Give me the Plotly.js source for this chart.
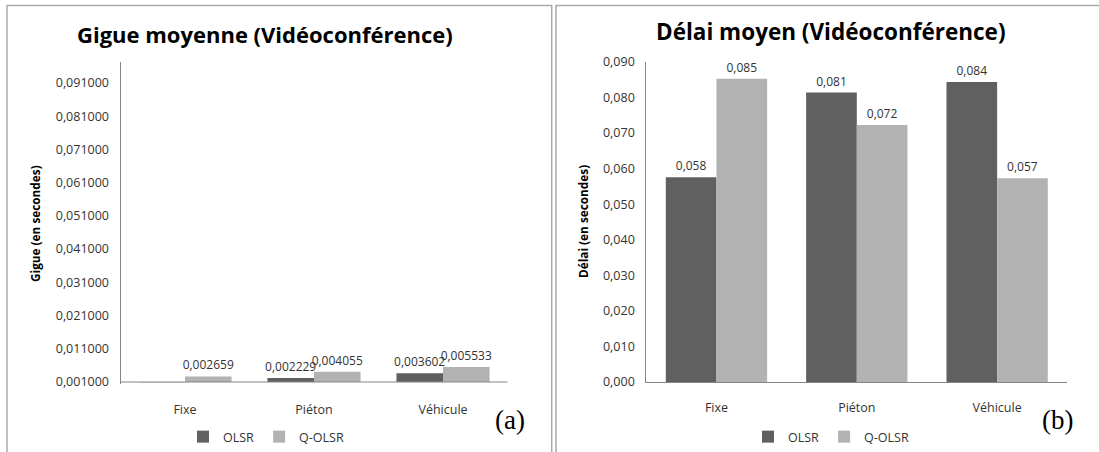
<!DOCTYPE html>
<html>
<head>
<meta charset="utf-8">
<script src="https://cdn.plot.ly/plotly-3.0.1.min.js"></script>
<style>html,body{margin:0;padding:0;background:#fff;}#chart{width:1099px;height:452px;}</style>
</head>
<body>
<div id="chart"></div>
<script>
// ---- data ----
const categories = ['Fixe', 'Piéton', 'Véhicule'];
const seriesNames = ['OLSR', 'Q-OLSR'];
const gigueOLSR = [0.00095, 0.002229, 0.003602];
const gigueQOLSR = [0.002659, 0.004055, 0.005533];
const delaiOLSR = [0.0576, 0.0814, 0.0844];
const delaiQOLSR = [0.0853, 0.0723, 0.0573];
const chartTitles = ['Gigue moyenne (Vidéoconférence)', 'Délai moyen (Vidéoconférence)'];
const yTitles = ['Gigue (en secondes)', 'Délai (en secondes)'];
const panelLabels = ['(a)', '(b)'];
const gigueAxisMin = 0.001;   // value axis crosses the category axis here
const gigueAxisMax = 0.0973;
const delaiAxisMax = 0.09;

// ---- styles ----
const W = 1099, H = 452;
const colOLSR = '#606060', colQ = '#b2b2b2';
const FONT = 'Open Sans, sans-serif';
const txtCol = '#333333';
const px = v => v / W, py = v => 1 - v / H;
const fmt = (v, d) => v.toFixed(d).replace('.', ',');

// bars start at the axis crossing value (like the original spreadsheet chart)
function bar(values, name, color, xa, ya, legend, base, decimals) {
  return {
    type: 'bar', x: categories, y: values.map(v => v - base), base: base,
    name: name, xaxis: xa, yaxis: ya, legend: legend, showlegend: true,
    marker: {color: color},
    text: values.map(v => v < base ? '' : fmt(v, decimals)),
    texttemplate: '%{text}',
    textposition: 'outside', cliponaxis: false, constraintext: 'none',
    textfont: {family: FONT, size: 12, color: txtCol},
    hoverinfo: 'skip'
  };
}

const data = [
  bar(gigueOLSR, seriesNames[0], colOLSR, 'x', 'y', 'legend', gigueAxisMin, 6),
  bar(gigueQOLSR, seriesNames[1], colQ, 'x', 'y', 'legend', gigueAxisMin, 6),
  bar(delaiOLSR, seriesNames[0], colOLSR, 'x2', 'y2', 'legend2', 0, 3),
  bar(delaiQOLSR, seriesNames[1], colQ, 'x2', 'y2', 'legend2', 0, 3)
];

const axisCommon = {
  showline: true, linecolor: '#868686', linewidth: 1, ticks: '', showgrid: false, zeroline: false,
  tickfont: {family: FONT, size: 12.5, color: txtCol}, fixedrange: true
};

const legendCommon = {
  orientation: 'h', xanchor: 'center', yanchor: 'middle',
  font: {family: FONT, size: 12.5, color: txtCol}, bgcolor: 'rgba(0,0,0,0)',
  itemwidth: 30, tracegroupgap: 0
};

// left value axis: plotted from slightly below the crossing so a bar below it shows
const leftBottomPx = 382, leftTopPx = 62, leftBelow = 2;
const leftPxPerUnit = (leftBottomPx - leftTopPx) / (gigueAxisMax - gigueAxisMin);
const leftRangeMin = gigueAxisMin - leftBelow / leftPxPerUnit;

const layout = {
  width: W, height: H, autosize: false,
  margin: {l: 0, r: 0, t: 0, b: 0, pad: 0},
  paper_bgcolor: '#ffffff', plot_bgcolor: '#ffffff',
  separators: ', ',
  barmode: 'group', bargap: 0.278, bargroupgap: 0,
  xaxis: Object.assign({}, axisCommon, {domain: [px(120.5), px(507.5)], anchor: 'y',
    showline: false, ticklabelstandoff: 16}),
  yaxis: Object.assign({}, axisCommon, {domain: [1 - (leftBottomPx + leftBelow) / H, 1 - leftTopPx / H], anchor: 'x',
    range: [leftRangeMin, gigueAxisMax], tick0: gigueAxisMin, dtick: 0.01, tickformat: '.6f', ticklabelstandoff: 8}),
  xaxis2: Object.assign({}, axisCommon, {domain: [px(646.3), px(1067.3)], anchor: 'y2', ticklabelstandoff: 14}),
  yaxis2: Object.assign({}, axisCommon, {domain: [1 - 382 / H, 1 - 62 / H], anchor: 'x2',
    range: [0, delaiAxisMax], tick0: 0, dtick: 0.01, tickformat: '.3f', ticklabelstandoff: 8}),
  legend: Object.assign({}, legendCommon, {x: px(266), y: py(437)}),
  legend2: Object.assign({}, legendCommon, {x: px(831), y: py(437)}),
  annotations: [
    {text: '<b>' + chartTitles[0] + '</b>', xref: 'paper', yref: 'paper', x: px(265), y: py(34),
     xanchor: 'center', yanchor: 'middle', showarrow: false, font: {family: FONT, size: 22, color: '#000'}},
    {text: '<b>' + chartTitles[1] + '</b>', xref: 'paper', yref: 'paper', x: px(831), y: py(31),
     xanchor: 'center', yanchor: 'middle', showarrow: false, font: {family: FONT, size: 22.5, color: '#000'}},
    {text: '<b>' + yTitles[0] + '</b>', xref: 'paper', yref: 'paper', x: px(35), y: py(224),
     xanchor: 'center', yanchor: 'middle', textangle: -90, showarrow: false, font: {family: FONT, size: 11.8, color: '#000'}},
    {text: '<b>' + yTitles[1] + '</b>', xref: 'paper', yref: 'paper', x: px(583), y: py(222),
     xanchor: 'center', yanchor: 'middle', textangle: -90, showarrow: false, font: {family: FONT, size: 11.8, color: '#000'}},
    {text: panelLabels[0], xref: 'paper', yref: 'paper', x: px(510), y: py(420),
     xanchor: 'center', yanchor: 'middle', showarrow: false, font: {family: 'Liberation Serif, serif', size: 27, color: '#000'}},
    {text: panelLabels[1], xref: 'paper', yref: 'paper', x: px(1057), y: py(420),
     xanchor: 'center', yanchor: 'middle', showarrow: false, font: {family: 'Liberation Serif, serif', size: 27, color: '#000'}}
  ],
  shapes: [
    // category axis line of the left chart, drawn where it crosses the value axis
    {type: 'line', xref: 'x domain', yref: 'y', x0: 0, x1: 1, y0: gigueAxisMin, y1: gigueAxisMin,
     line: {color: '#868686', width: 1}, layer: 'above'},
    {type: 'rect', xref: 'paper', yref: 'paper', x0: px(7), x1: px(551.7), y0: -0.1, y1: py(5.5),
     line: {color: '#ababab', width: 1.5}, fillcolor: 'rgba(0,0,0,0)', layer: 'below'},
    {type: 'rect', xref: 'paper', yref: 'paper', x0: px(556), x1: 1.02, y0: -0.1, y1: py(5.5),
     line: {color: '#ababab', width: 1.5}, fillcolor: 'rgba(0,0,0,0)', layer: 'below'}
  ]
};

Plotly.newPlot('chart', data, layout, {displayModeBar: false, staticPlot: true});
</script>
</body>
</html>
